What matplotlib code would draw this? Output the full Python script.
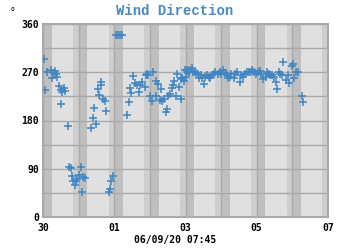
import numpy as np
import pandas as pd
import matplotlib
matplotlib.use("Agg")
import matplotlib.pyplot as plt
import matplotlib.dates as mdates

# days since 30 May 2020 00:00, and wind direction in degrees
day_off = [0.03, 0.065, 0.10, 0.22, 0.25, 0.31, 0.35, 0.40, 0.33, 0.44, 0.50, 0.53,
           0.59, 0.63, 0.50, 0.70, 0.74, 0.78, 0.81, 0.85, 0.89, 0.93, 0.96, 1.02,
           1.06, 1.11, 1.17, 1.10, 1.36, 1.40, 1.49, 1.43, 1.53, 1.58, 1.62, 1.64,
           1.69, 1.73, 1.77, 1.84, 1.88, 1.92, 1.96, 2.05, 2.11, 2.16, 2.22, 2.35,
           2.41, 2.43, 2.48, 2.52, 2.57, 2.63, 2.69, 2.73, 2.78, 2.86, 2.89, 2.93,
           2.96, 3.01, 3.06, 3.10, 3.16, 3.17, 3.23, 3.27, 3.31, 3.34, 3.40, 3.44,
           3.47, 3.51, 3.57, 3.61, 3.64, 3.68, 3.72, 3.76, 3.81, 3.87, 3.91, 3.96,
           4.00, 4.04, 4.09,
           3.87, 3.91, 3.98, 4.04, 4.09, 4.13, 4.17, 4.21, 4.26, 4.30, 4.36, 4.39,
           4.43, 4.47, 4.51, 4.56, 4.60, 4.66, 4.69, 4.75, 4.79, 4.84, 4.90, 4.96,
           5.01, 5.05, 5.10, 5.16, 5.20, 5.25, 5.29, 5.35, 5.40, 5.46, 5.52, 5.55,
           5.61, 5.67, 5.72, 5.78, 5.84, 5.87, 5.93, 5.99, 6.04, 6.10, 6.13, 6.19,
           6.25, 6.28, 6.34, 6.38, 6.43, 6.49, 6.53, 6.58, 6.62, 6.66, 6.72, 6.75,
           6.81, 6.87, 6.92, 6.98, 7.01, 7.05, 7.11, 7.15, 7.26, 7.30]
wind_dir = [295, 237, 270, 274, 259, 269, 267, 261, 272, 245, 236, 233,
            240, 235, 211, 170, 93, 92, 77, 67, 60, 67, 70, 78,
            93, 74, 72, 46, 166, 184, 174, 204, 238, 228, 251, 246,
            220, 217, 197, 46, 52, 68, 76, 339, 339, 339, 339, 190,
            215, 241, 232, 263, 250, 246, 234, 246, 251, 243, 265, 267,
            265, 225, 217, 270, 225, 253, 248, 218, 238, 216, 221, 196,
            201, 225, 230, 240, 246, 253, 226, 267, 242, 221, 259, 254,
            261, 273, 271,
            257, 260, 274, 275, 272, 275, 277, 271, 270, 268, 266, 260,
            264, 259, 249, 261, 265, 262, 259, 264, 267, 270, 267, 271,
            267, 274, 269, 264, 259, 262, 266, 260, 267, 270, 251, 264,
            261, 266, 270, 271, 270, 274, 270, 267, 271, 272, 266, 257,
            261, 271, 267, 265, 264, 261, 252, 239, 271, 266, 264, 289,
            255, 264, 250, 282, 285, 259, 271, 271, 225, 214]

start = pd.Timestamp("2020-05-30")
times = start + pd.to_timedelta(day_off, unit="D")
tick_days = pd.date_range(start, periods=5, freq="2D")

mono = "DejaVu Sans Mono"

fig = plt.figure(figsize=(3.5, 2.5), dpi=100)
ax = fig.add_axes([0.123, 0.132, 0.814, 0.772])
ax.set_facecolor("#e0e0e0")

# night / evening shading
for d in range(9):
    mid = start + pd.Timedelta(days=d)
    ax.axvspan(mid - pd.Timedelta(hours=3.8), mid, color="#cecece", lw=0, zorder=0)
    ax.axvspan(mid, mid + pd.Timedelta(hours=5.9), color="#bfbfbf", lw=0, zorder=0)

ax.plot(times, wind_dir, "+", color="#3f86c4", ms=5.5, mew=1.1, zorder=3)

ax.set_xlim(start, start + pd.Timedelta(days=8))
ax.set_ylim(0, 360)
ax.set_yticks(np.arange(0, 361, 45), minor=True)
ax.set_yticks([0, 90, 180, 270, 360])
ax.set_xticks(pd.date_range(start, periods=9, freq="D"), minor=True)
ax.set_xticks(tick_days)
ax.xaxis.set_major_formatter(mdates.DateFormatter("%d"))
ax.grid(True, which="both", color="#aaaaaa", lw=1, zorder=1)
ax.set_axisbelow(True)
ax.tick_params(which="both", length=0)
ax.tick_params(axis="x", pad=4)
ax.tick_params(axis="y", pad=3)
for lab in ax.get_xticklabels() + ax.get_yticklabels():
    lab.set_fontfamily(mono)
    lab.set_fontweight("bold")
    lab.set_fontsize(7)
for s in ax.spines.values():
    s.set_color("#aaaaaa")
    s.set_linewidth(1.5)

fig.text(0.5, 0.955, "Wind Direction", ha="center", va="center", color="#4a88c2",
         fontsize=10, fontweight="bold", family="Liberation Mono")
fig.text(0.035, 0.95, "°", ha="center", va="center", fontsize=7, family=mono)
fig.text(0.5, 0.04, "06/09/20 07:45", ha="center", va="center", fontsize=7,
         fontweight="bold", family=mono)

fig.savefig("out.png", dpi=100)
